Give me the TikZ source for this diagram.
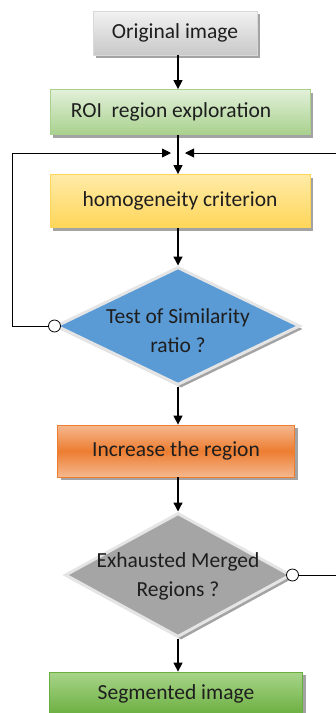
\documentclass[tikz,border=0pt]{standalone}
\usepackage{fontspec}
\setmainfont{Carlito}
\usetikzlibrary{shapes.geometric,arrows.meta,shadows}
\definecolor{txt}{HTML}{1E1E1E}
\definecolor{greyT}{HTML}{F2F2F2}
\definecolor{greyB}{HTML}{C8C8C8}
\definecolor{roiT}{HTML}{E2F0D9}
\definecolor{roiB}{HTML}{A9D18E}
\definecolor{yelT}{HTML}{FFEBA8}
\definecolor{yelB}{HTML}{FFD659}
\definecolor{blueD}{HTML}{5B9BD5}
\definecolor{oraM}{HTML}{ED7D31}
\definecolor{oraL}{HTML}{F5B88E}
\definecolor{greyD}{HTML}{A5A5A5}
\definecolor{grnM}{HTML}{6AAE3E}
\definecolor{grnL}{HTML}{A8D48A}
\begin{document}
\begin{tikzpicture}[x=1pt,y=-1pt,
  font=\fontsize{21.5}{26}\selectfont, text=txt,
  shad/.style={drop shadow={shadow xshift=3pt,shadow yshift=-3pt,fill=black!45,opacity=0.8}},
  box/.style={rectangle, shad, inner sep=0pt, line width=0.8pt},
  dia/.style={diamond, shad, inner sep=0pt, draw=black!10, line width=3pt},
  circ/.style={circle, draw=black, fill=white, line width=0.8pt, minimum size=12pt, inner sep=0pt},
  arr/.style={line width=1.3pt, -{Triangle[length=9pt,width=9pt]}},
  loop/.style={line width=0.9pt, -{Triangle[length=9pt,width=9pt]}},
  lbl/.style={align=center, font=\fontsize{21.5}{29}\selectfont}]
\clip (0,0) rectangle (336,713);
\useasboundingbox (0,0) rectangle (336,713);
\coordinate (spine) at (178,0);

\node[box, draw=black!15, top color=greyT, bottom color=greyB, minimum width=164pt, minimum height=44pt] (orig) at (175,33) {Original image};
\node[box, draw=roiB, top color=roiT, bottom color=roiB, minimum width=260pt, minimum height=45pt] (roi) at (180,112) {\hspace*{-18pt}ROI\ \ region exploration};
\node[box, draw=yelB, top color=yelT, bottom color=yelB, minimum width=260pt, minimum height=53pt] (hom) at (180,201) {homogeneity criterion};
\node[dia, fill=blueD, minimum width=244pt, minimum height=118pt,
  label={[lbl, yshift=-5pt]center:Test of Similarity\\ratio ?}] (d1) at (178,326) {};
\node[box, draw=oraM, top color=oraL, bottom color=oraL, middle color=oraM, minimum width=237pt, minimum height=52pt] (inc) at (176,451) {Increase the region};
\node[dia, fill=greyD, minimum width=226pt, minimum height=124pt,
  label={[lbl, yshift=-1pt]center:Exhausted Merged\\Regions ?}] (d2) at (178,575) {};
\node[box, draw=grnM, top color=grnL, bottom color=grnM, minimum width=253pt, minimum height=44pt] (seg) at (176,694) {Segmented image};

\coordinate (jl) at (171,153);
\coordinate (jr) at (185,153);
\coordinate (lt) at (12,153);
\coordinate (rt) at (340,153);

\node[circ] (c1) at (d1.west) {};
\node[circ] (c2) at (d2.east) {};

\draw[arr] (orig.south -| spine) -- (roi.north -| spine);
\draw[arr] (roi.south -| spine) -- (hom.north -| spine);
\draw[arr] (hom.south -| spine) -- (d1.north -| spine);
\draw[arr] (d1.south -| spine) -- (inc.north -| spine);
\draw[arr] (inc.south -| spine) -- (d2.north -| spine);
\draw[arr] (d2.south -| spine) -- (seg.north -| spine);

\draw[loop] (c1.west) -- (c1.west -| lt) -- (lt) -- (jl);
\draw[loop] (c2.east) -- (c2.east -| rt) -- (rt) -- (jr);
\end{tikzpicture}
\end{document}
